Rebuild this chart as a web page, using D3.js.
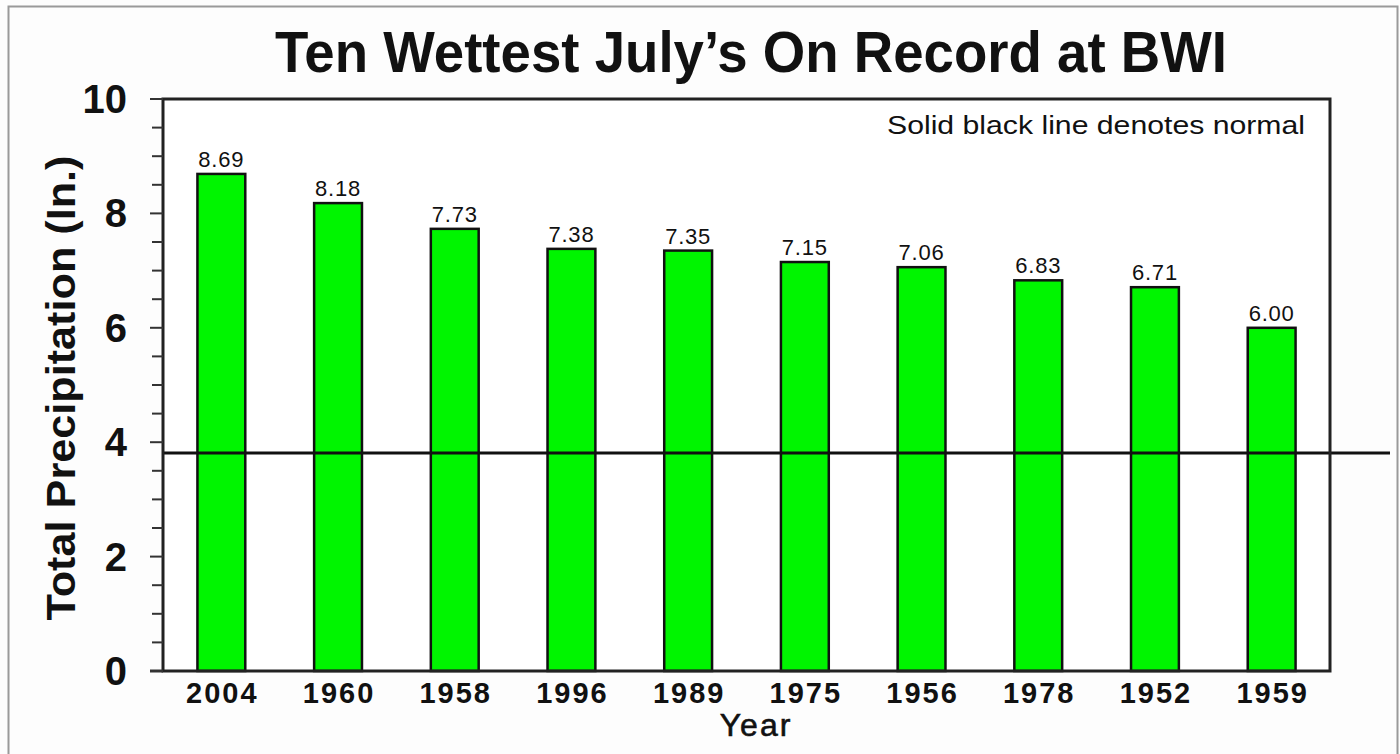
<!DOCTYPE html>
<html><head><meta charset="utf-8">
<script src="https://cdn.jsdelivr.net/npm/d3@7"></script>
<style>body{margin:0;background:#fff}svg{display:block}</style>
</head><body>
<script>
const years = ["2004","1960","1958","1996","1989","1975","1956","1978","1952","1959"];
const precip = [8.69,8.18,7.73,7.38,7.35,7.15,7.06,6.83,6.71,6.00];
const normal = 3.81;
const yTicks = [0,2,4,6,8,10];
const title = "Ten Wettest July\u2019s On Record at BWI";
const note = "Solid black line denotes normal";

const W=1400,H=754;
const svg=d3.select("body").append("svg").attr("width",W).attr("height",H);
svg.append("rect").attr("x",0).attr("y",0).attr("width",W).attr("height",H).attr("fill","#fdfdfd");
svg.append("rect").attr("x",8.5).attr("y",6.5).attr("width",1389).attr("height",760).attr("fill","none").attr("stroke","#9a9a9a").attr("stroke-width",2);

const L=163,R=1330,T=99,B=671;
const x=d3.scaleBand().domain(years).range([L,R]).paddingInner(0.59).paddingOuter(0.295);
const y=d3.scaleLinear().domain([0,10]).range([B,T]);

svg.append("rect").attr("x",L).attr("y",T).attr("width",R-L).attr("height",B-T).attr("fill","#fff");

// bars
svg.selectAll("rect.bar").data(years).join("rect").attr("class","bar")
 .attr("x",d=>x(d)).attr("width",x.bandwidth())
 .attr("y",(d,i)=>y(precip[i])).attr("height",(d,i)=>y(0)-y(precip[i]))
 .attr("fill","#00f500").attr("stroke","#111").attr("stroke-width",2.5);

// value labels
svg.selectAll("text.val").data(years).join("text").attr("class","val")
 .attr("x",d=>x(d)+x.bandwidth()/2).attr("y",(d,i)=>y(precip[i])-7)
 .attr("text-anchor","middle").attr("font-family","Liberation Sans, Arial, sans-serif")
 .attr("font-size",22).attr("letter-spacing",0.8).attr("fill","#111").text((d,i)=>precip[i].toFixed(2));

// normal line
svg.append("line").attr("x1",L).attr("x2",R+60).attr("y1",y(normal)).attr("y2",y(normal))
 .attr("stroke","#111").attr("stroke-width",3);

// frame
svg.append("rect").attr("x",L).attr("y",T).attr("width",R-L).attr("height",B-T).attr("fill","none").attr("stroke","#222").attr("stroke-width",3);

// y axis ticks
const minor=d3.range(0,10.01,0.5);
svg.selectAll("line.tk").data(minor).join("line").attr("class","tk")
 .attr("x1",d=>d%2===0?150:152).attr("x2",L).attr("y1",d=>y(d)).attr("y2",d=>y(d))
 .attr("stroke","#333").attr("stroke-width",2);
svg.append("line").attr("x1",150).attr("x2",L).attr("y1",B).attr("y2",B).attr("stroke","#333").attr("stroke-width",3);

svg.selectAll("text.yt").data(yTicks).join("text").attr("class","yt")
 .attr("x",127).attr("y",d=>y(d)+14).attr("text-anchor","end")
 .attr("font-family","Liberation Sans, Arial, sans-serif").attr("font-weight","bold")
 .attr("font-size",40).attr("fill","#111").text(d=>d);

// x labels
svg.selectAll("text.xt").data(years).join("text").attr("class","xt")
 .attr("x",d=>x(d)+x.bandwidth()/2+1).attr("y",703).attr("text-anchor","middle")
 .attr("font-family","Liberation Sans, Arial, sans-serif").attr("font-weight","bold")
 .attr("font-size",29).attr("letter-spacing",2).attr("fill","#111").text(d=>d);

svg.append("text").attr("x",756).attr("y",736).attr("text-anchor","middle")
 .attr("font-family","Liberation Sans, Arial, sans-serif").attr("font-size",32).attr("letter-spacing",2)
 .attr("stroke","#111").attr("stroke-width",0.6).attr("fill","#111").text("Year");

svg.append("text").attr("transform","translate(75,388) rotate(-90)").attr("text-anchor","middle")
 .attr("font-family","Liberation Sans, Arial, sans-serif").attr("font-weight","bold")
 .attr("font-size",40).attr("fill","#111").attr("textLength",465).attr("lengthAdjust","spacingAndGlyphs")
 .text("Total Precipitation (In.)");

svg.append("text").attr("x",751).attr("y",72).attr("text-anchor","middle")
 .attr("font-family","Liberation Sans, Arial, sans-serif").attr("font-weight","bold")
 .attr("font-size",57).attr("fill","#111").attr("textLength",952).attr("lengthAdjust","spacingAndGlyphs").text(title);

svg.append("text").attr("x",1305).attr("y",134).attr("text-anchor","end")
 .attr("font-family","Liberation Sans, Arial, sans-serif").attr("font-size",25).attr("fill","#111")
 .attr("textLength",418).attr("lengthAdjust","spacingAndGlyphs").text(note);
</script>
</body></html>
